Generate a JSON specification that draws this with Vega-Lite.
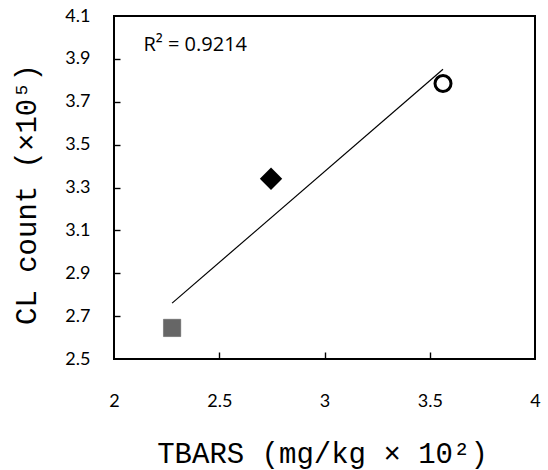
{
  "$schema": "https://vega.github.io/schema/vega-lite/v6.json",
  "width": 421,
  "height": 343,
  "autosize": {"type": "none"},
  "padding": {"left": 114, "top": 16, "right": 12, "bottom": 111},
  "background": "white",
  "config": {
    "view": {"stroke": "#000", "strokeWidth": 2},
    "axis": {"grid": false, "domain": false, "zindex": 1, "tickColor": "#000", "tickWidth": 1.4, "labelFont": "Lato", "labelFontSize": 18, "labelColor": "#000", "titleFont": "Liberation Mono", "titleFontSize": 29, "titleFontWeight": "normal", "titleColor": "#000"}
  },
  "data": {
    "values": [
      {"tbars": 2.276, "cl": 2.645, "group": "A"},
      {"tbars": 2.746, "cl": 3.341, "group": "B"},
      {"tbars": 3.563, "cl": 3.785, "group": "C"}
    ]
  },
  "resolve": {"axis": {"x": "independent", "y": "independent"}},
  "layer": [
    {
      "transform": [{"regression": "cl", "on": "tbars"}],
      "mark": {"type": "line", "color": "#000", "strokeWidth": 1.2},
      "encoding": {
        "x": {"field": "tbars", "type": "quantitative", "scale": {"domain": [2, 4], "nice": false, "zero": false},
          "axis": {"values": [2, 2.5, 3, 3.5, 4], "format": "~g", "ticks": false, "labelPadding": 33, "labelFlush": false, "title": "TBARS (mg/kg × 10²)", "titleX": 208, "titleY": 94, "titleBaseline": "middle", "titleAnchor": "middle"}},
        "y": {"field": "cl", "type": "quantitative", "scale": {"domain": [2.5, 4.1], "nice": false, "zero": false},
          "axis": {"values": [2.5, 2.7, 2.9, 3.1, 3.3, 3.5, 3.7, 3.9, 4.1], "format": ".1f", "ticks": false, "labelPadding": 24, "labelFlush": false, "title": "CL count (×10⁵)", "titleX": -88, "titleY": 178, "titleAngle": -90, "titleAlign": "center", "titleBaseline": "middle", "titleAnchor": "middle"}}
      }
    },
    {
      "transform": [{"filter": "datum.group === 'A'"}],
      "mark": {"type": "point", "shape": "square", "filled": true, "fill": "#666666", "stroke": "#5a5a5a", "strokeWidth": 0.5, "opacity": 1, "size": 300},
      "encoding": {
        "x": {"field": "tbars", "type": "quantitative", "axis": {"orient": "top", "offset": -343, "values": [2.5, 3, 3.5], "labels": false, "title": null, "ticks": true, "tickSize": 7}},
        "y": {"field": "cl", "type": "quantitative", "axis": {"orient": "right", "offset": -421, "values": [2.7, 2.9, 3.1, 3.3, 3.5, 3.7, 3.9], "labels": false, "title": null, "ticks": true, "tickSize": 6}}
      }
    },
    {
      "transform": [{"filter": "datum.group === 'B'"}],
      "mark": {"type": "point", "shape": "diamond", "filled": true, "fill": "#000", "opacity": 1, "size": 500},
      "encoding": {"x": {"field": "tbars", "type": "quantitative", "axis": null}, "y": {"field": "cl", "type": "quantitative", "axis": null}}
    },
    {
      "transform": [{"filter": "datum.group === 'C'"}],
      "mark": {"type": "point", "shape": "circle", "filled": false, "fill": "#fff", "fillOpacity": 1, "stroke": "#000", "strokeWidth": 3, "opacity": 1, "size": 256},
      "encoding": {"x": {"field": "tbars", "type": "quantitative", "axis": null}, "y": {"field": "cl", "type": "quantitative", "axis": null}}
    },
    {
      "data": {"values": [{"label": "R² = 0.9214"}]},
      "mark": {"type": "text", "align": "left", "baseline": "middle", "font": "Open Sans", "fontSize": 20, "fontWeight": "normal", "color": "#000"},
      "encoding": {"x": {"datum": 2.14, "axis": null}, "y": {"datum": 3.965, "axis": null}, "text": {"field": "label"}}
    }
  ]
}
